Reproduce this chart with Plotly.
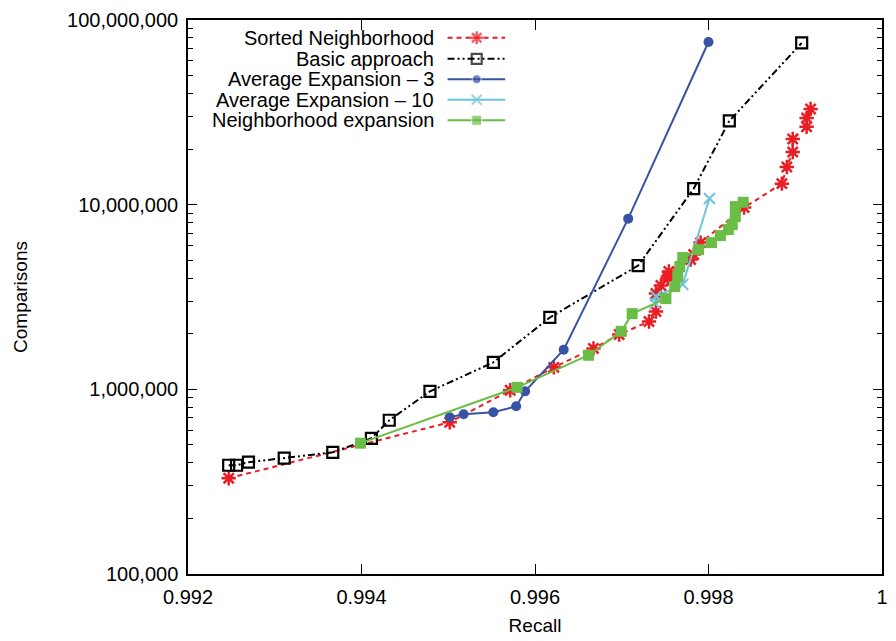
import plotly.graph_objects as go

# Recall vs. number of comparisons for each blocking strategy
sorted_nb_recall = [0.992469, 0.995017, 0.995714, 0.996217, 0.996674, 0.996971,
                    0.997314, 0.997394, 0.997394, 0.997451, 0.997531, 0.997531,
                    0.997543, 0.997794, 0.997829, 0.997909, 0.998411, 0.998846,
                    0.998903, 0.998971, 0.998971, 0.999131, 0.999131, 0.999177]
sorted_nb_comp = [330e3, 663e3, 988e3, 1.315e6, 1.666e6, 1.98e6,
                  2.33e6, 2.64e6, 3.30e6, 3.65e6, 3.98e6, 4.08e6,
                  4.35e6, 5.05e6, 5.37e6, 6.23e6, 9.64e6, 13.0e6,
                  16.0e6, 19.3e6, 22.7e6, 26.4e6, 29.5e6, 33.0e6]

basic_recall = [0.992469, 0.99256, 0.992697, 0.993109, 0.993669, 0.994114, 0.99432,
                0.994789, 0.99552, 0.996171, 0.997189, 0.997829, 0.99824, 0.999074]
basic_comp = [388e3, 388e3, 403e3, 424e3, 456e3, 543e3, 680e3,
              975e3, 1.40e6, 2.45e6, 4.68e6, 12.2e6, 28.4e6, 75.1e6]

avg3_recall = [0.995017, 0.995177, 0.99552, 0.995783, 0.995886, 0.996331, 0.997074, 0.998]
avg3_comp = [706e3, 733e3, 751e3, 809e3, 975e3, 1.64e6, 8.40e6, 76.0e6]

avg10_recall = [0.997383, 0.997394, 0.997703, 0.998011]
avg10_comp = [2.92e6, 3.19e6, 3.70e6, 10.8e6]

nbexp_recall = [0.993989, 0.995794, 0.996617, 0.996994, 0.99712, 0.997509, 0.997611,
                0.997646, 0.997669, 0.997703, 0.997886, 0.998034, 0.998137, 0.998229,
                0.998274, 0.998309, 0.998309, 0.9984]
nbexp_comp = [511e3, 1.025e6, 1.53e6, 2.06e6, 2.57e6, 3.10e6, 3.60e6,
              4.08e6, 4.62e6, 5.17e6, 5.71e6, 6.23e6, 6.80e6, 7.33e6,
              7.80e6, 8.61e6, 9.76e6, 10.3e6]

series_names = ["Sorted Neighborhood", "Basic approach", "Average Expansion \u2013 3",
                "Average Expansion \u2013 10", "Neighborhood expansion"]

x_tickvals = [0.992, 0.994, 0.996, 0.998, 1.0]
x_ticktext = ["0.992", "0.994", "0.996", "0.998", "1"]
y_tickvals = [1e5, 1e6, 1e7, 1e8]
y_ticktext = ["100,000", "1,000,000", "10,000,000", "100,000,000"]

FONT = "Liberation Sans, Arial, Helvetica, sans-serif"
RED = "#ec1c24"
BLACK = "#000000"
BLUE = "#3953a4"
CYAN = "#6cc5da"
GREEN = "#6abd45"
DASHDOT2 = "7px,3px,2px,3px,2px,3px"

styles = [
    dict(line=dict(color=RED, width=2, dash="5px,4px"),
         marker=dict(symbol="asterisk-open", size=12, color=RED, line=dict(color=RED, width=2.5))),
    dict(line=dict(color=BLACK, width=2, dash=DASHDOT2),
         marker=dict(symbol="square-open", size=11, color=BLACK, line=dict(color=BLACK, width=2.2))),
    dict(line=dict(color=BLUE, width=2),
         marker=dict(symbol="circle", size=10, color=BLUE)),
    dict(line=dict(color=CYAN, width=2),
         marker=dict(symbol="x-thin-open", size=11, color=CYAN, line=dict(color=CYAN, width=2))),
    dict(line=dict(color=GREEN, width=2),
         marker=dict(symbol="square", size=11, color=GREEN)),
]

data = [(sorted_nb_recall, sorted_nb_comp), (basic_recall, basic_comp),
        (avg3_recall, avg3_comp), (avg10_recall, avg10_comp),
        (nbexp_recall, nbexp_comp)]

fig = go.Figure()
for name, (xs, ys), st in zip(series_names, data, styles):
    fig.add_trace(go.Scatter(x=xs, y=ys, mode="lines+markers", name=name,
                             line=st["line"], marker=st["marker"],
                             showlegend=False, cliponaxis=False))

# Key in the upper left: label text on the left, line sample on the right
key_text_x = 0.358
key_x0, key_xm, key_x1 = 0.374, 0.416, 0.457
key_rows = [0.968, 0.930, 0.893, 0.856, 0.819]
for name, st, ky in zip(series_names, styles, key_rows):
    m = dict(st["marker"])
    m["size"] = [0, st["marker"]["size"] - 1, 0]
    fig.add_trace(go.Scatter(x=[key_x0, key_xm, key_x1], y=[ky, ky, ky],
                             xaxis="x2", yaxis="y2", mode="lines+markers",
                             line=st["line"], marker=m, showlegend=False,
                             hoverinfo="skip"))
    fig.add_annotation(x=key_text_x, y=ky, xref="paper", yref="paper",
                       text=name, showarrow=False, xanchor="right", yanchor="middle",
                       font=dict(family=FONT, size=20, color="#000000"))

axis_common = dict(showline=True, linecolor="#000000", linewidth=1.5, mirror="ticks",
                   ticks="inside", tickcolor="#000000", tickwidth=1.2,
                   showgrid=False, zeroline=False,
                   tickfont=dict(family=FONT, size=20, color="#000000"))

fig.update_layout(
    width=896, height=641,
    margin=dict(l=188, r=8, t=20, b=66),
    paper_bgcolor="white", plot_bgcolor="white",
    showlegend=False,
    xaxis=dict(range=[0.992, 1.0], tickvals=x_tickvals, ticktext=x_ticktext,
               ticklen=10, ticklabelstandoff=4,
               title=dict(text="Recall", standoff=12,
                          font=dict(family=FONT, size=19, color="#000000")),
               **axis_common),
    yaxis=dict(type="log", range=[5, 8], tickvals=y_tickvals, ticktext=y_ticktext,
               ticklen=9, ticklabelstandoff=4,
               minor=dict(ticks="inside", ticklen=5, tickcolor="#000000", tickwidth=1.2,
                          tickvals=[m * 10 ** e for e in (5, 6, 7) for m in range(2, 10)]),
               title=dict(text="Comparisons", standoff=34,
                          font=dict(family=FONT, size=19, color="#000000")),
               **axis_common),
    xaxis2=dict(overlaying="x", range=[0, 1], visible=False, anchor="y2"),
    yaxis2=dict(overlaying="y", range=[0, 1], visible=False, anchor="x2"),
)

fig.write_html("out.html")
